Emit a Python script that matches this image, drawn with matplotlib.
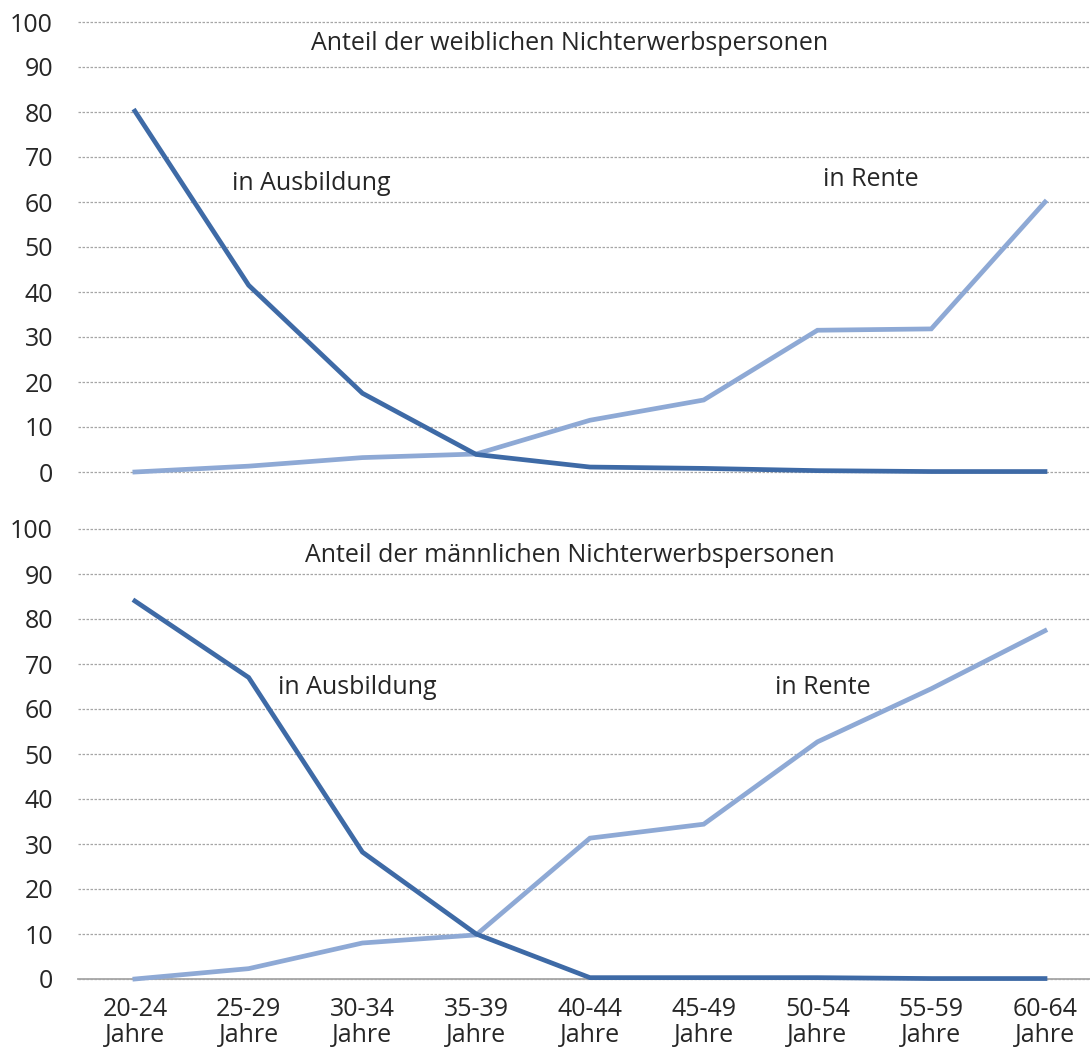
import matplotlib
matplotlib.use("Agg")
import matplotlib.pyplot as plt

plt.rcParams["font.family"] = ["Open Sans", "DejaVu Sans"]

age_groups = ["20-24", "25-29", "30-34", "35-39", "40-44", "45-49", "50-54", "55-59", "60-64"]
x_labels = [f"{a}\nJahre" for a in age_groups]

# Anteil der weiblichen Nichterwerbspersonen
women_ausbildung = [80.2, 41.5, 17.5, 3.9, 1.1, 0.8, 0.3, 0.1, 0.1]
women_rente = [0.0, 1.3, 3.2, 4.0, 11.5, 16.0, 31.5, 31.8, 60.0]

# Anteil der männlichen Nichterwerbspersonen
men_ausbildung = [84.0, 67.0, 28.2, 10.0, 0.3, 0.3, 0.3, 0.1, 0.1]
men_rente = [0.0, 2.3, 8.0, 9.8, 31.3, 34.4, 52.7, 64.5, 77.4]

DARK = "#3e6aa6"
LIGHT = "#8ea9d5"
TEXT = "#262626"
FS = 18
W, H = 1090, 1055

fig = plt.figure(figsize=(W / 100, H / 100), dpi=100)
fig.patch.set_facecolor("white")

left = 78 / W
ax_top = fig.add_axes([left, 1 - 472 / H, 1 - left, 450 / H])
ax_bot = fig.add_axes([left, 1 - 979 / H, 1 - left, 450 / H])

panels = [
    (ax_top, women_ausbildung, women_rente, "Anteil der weiblichen Nichterwerbspersonen",
     (3.82, 95.3), (0.85, 64.2), (6.05, 64.9)),
    (ax_bot, men_ausbildung, men_rente, "Anteil der männlichen Nichterwerbspersonen",
     (3.82, 94.2), (1.26, 64.7), (5.63, 64.7)),
]

xs = list(range(len(age_groups)))
for ax, ausb, rente, title, tpos, apos, rpos in panels:
    ax.set_xlim(-0.5, (W - 135) / 113.75)
    ax.set_ylim(0, 100)
    ax.set_yticks(range(0, 101, 10))
    for y in range(0, 101, 10):
        ax.axhline(y, color="#a6a6a6", lw=0.9, ls=(0, (2, 1.2)), zorder=1, clip_on=False)
    ax.plot(xs, rente, color=LIGHT, lw=3.4, solid_joinstyle="miter", clip_on=False, zorder=3)
    ax.plot(xs, ausb, color=DARK, lw=3.4, solid_joinstyle="miter", clip_on=False, zorder=4)
    for s in ax.spines.values():
        s.set_visible(False)
    ax.tick_params(axis="y", length=0, pad=18, labelsize=FS, labelcolor=TEXT)
    ax.tick_params(axis="x", length=0)
    ax.set_facecolor("none")
    ax.text(tpos[0], tpos[1], title, ha="center", va="center", fontsize=FS, color=TEXT)
    ax.text(apos[0], apos[1], "in Ausbildung", ha="left", va="center", fontsize=FS, color=TEXT)
    ax.text(rpos[0], rpos[1], "in Rente", ha="left", va="center", fontsize=FS, color=TEXT)

ax_top.set_xticks([])
ax_bot.axhline(0, color="#a6a6a6", lw=1.3, zorder=2, clip_on=False)
ax_bot.set_xticks(xs)
ax_bot.set_xticklabels(x_labels, fontsize=FS, color=TEXT, linespacing=1.05)
ax_bot.tick_params(axis="x", pad=13)

fig.savefig("out.png", dpi=100)
